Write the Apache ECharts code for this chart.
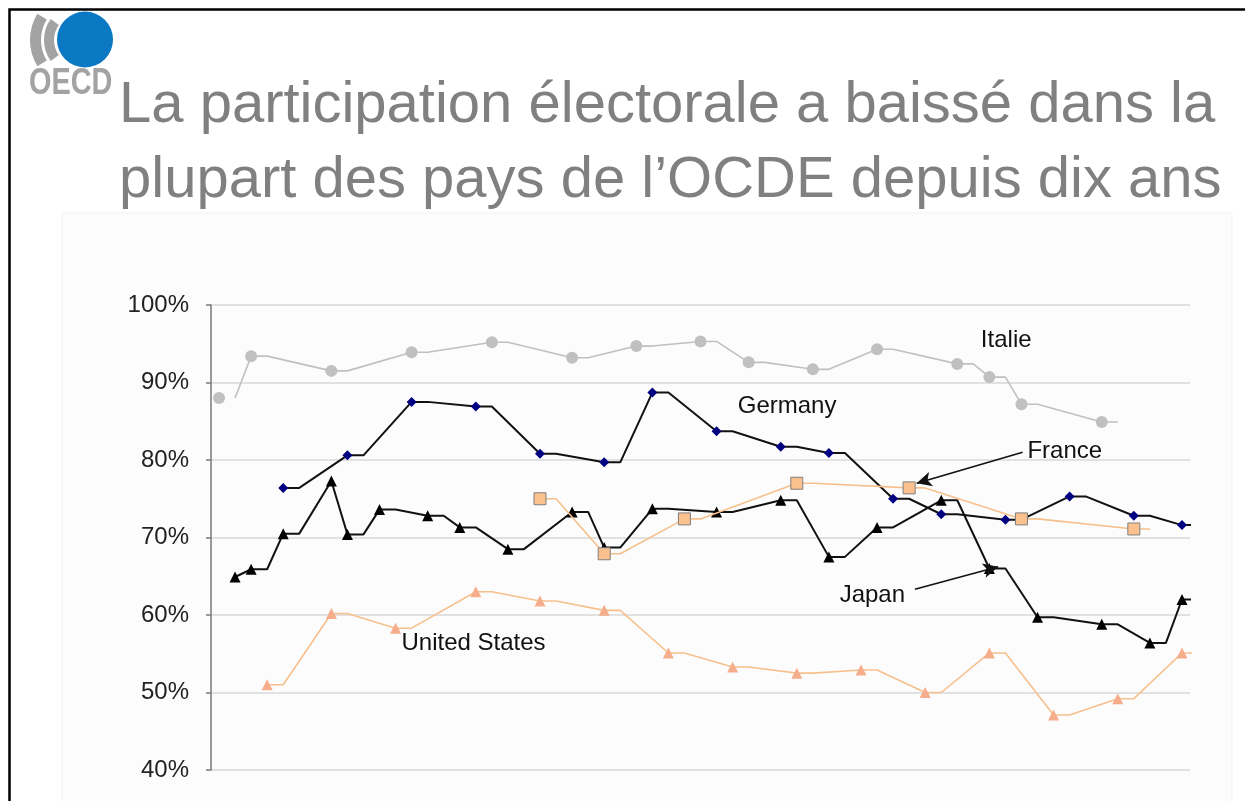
<!DOCTYPE html>
<html>
<head>
<meta charset="utf-8">
<script src="https://cdn.jsdelivr.net/npm/echarts@6/dist/echarts.min.js"></script>
<style>
  html, body { margin: 0; padding: 0; background: #ffffff; }
  #chart { width: 1245px; height: 801px; }
</style>
</head>
<body>
<div id="chart"></div>
<script>
// Turnout in national elections (% of voters), by election year
const ITALY_YEARS = [1945, 1947, 1952, 1957, 1962, 1967, 1971, 1975, 1978, 1982, 1986, 1991, 1993, 1995, 2000];
const ITALY = [88.0, 93.4, 91.5, 93.9, 95.2, 93.2, 94.7, 95.3, 92.6, 91.7, 94.3, 92.4, 90.7, 87.2, 84.9];

const GERMANY_YEARS = [1949, 1953, 1957, 1961, 1965, 1969, 1972, 1976, 1980, 1983, 1987, 1990, 1994, 1998, 2002, 2005];
const GERMANY = [76.4, 80.6, 87.5, 86.9, 80.8, 79.7, 88.7, 83.7, 81.7, 80.9, 75.0, 73.0, 72.3, 75.3, 72.8, 71.6];

const JAPAN_YEARS = [1946, 1947, 1949, 1952, 1953, 1955, 1958, 1960, 1963, 1967, 1969, 1972, 1976, 1980, 1983, 1986, 1990, 1993, 1996, 2000, 2003, 2005];
const JAPAN = [64.9, 65.9, 70.5, 77.3, 70.4, 73.6, 72.8, 71.3, 68.5, 73.3, 68.7, 73.7, 73.3, 74.8, 67.5, 71.3, 74.8, 66.0, 59.7, 58.8, 56.4, 62.0];

const FRANCE_YEARS = [1965, 1969, 1974, 1981, 1988, 1995, 2002];
const FRANCE = [75.0, 67.9, 72.4, 77.0, 76.4, 72.4, 71.1];

const US_YEARS = [1948, 1952, 1956, 1961, 1965, 1969, 1973, 1977, 1981, 1985, 1989, 1993, 1997, 2001, 2005];
const US = [51.0, 60.2, 58.3, 63.0, 61.8, 60.6, 55.1, 53.3, 52.5, 52.9, 50.0, 55.1, 47.1, 49.2, 55.1];

const Y_TICKS = [40, 50, 60, 70, 80, 90, 100];

const TITLE_LINES = [
  'La participation électorale a baissé dans la',
  'plupart des pays de l\u2019OCDE depuis dix ans'
];

// Country names written beside their lines: [name, year, turnout]
const SERIES_LABELS = [
  ['Italie', 1992.5, 95.35],
  ['Germany', 1977.35, 86.9],
  ['France', 1995.4, 81.0],
  ['Japan', 1983.7, 62.5],
  ['United States', 1956.4, 56.3]
];

// Pointer arrows: [from year, from turnout, to year, to turnout]
const ARROWS = [
  [1995.07, 80.99, 1988.47, 76.99],
  [1988.36, 63.32, 1993.55, 66.23]
];

// Each value is held for one year before the line moves on to the next election.
const HOLD = 1;

function buildLine(years, values, detachFirst) {
  const data = [];
  years.forEach((yr, i) => {
    data.push({ value: [yr, values[i]] });
    const next = years[i + 1];
    if (next === undefined || next - yr > HOLD) {
      if (i === 0 && detachFirst) {
        data.push({ value: [yr + HOLD / 2, '-'], symbol: 'none' });
      }
      data.push({ value: [yr + HOLD, values[i]], symbol: 'none' });
    }
  });
  return data;
}

const FONT = '"Liberation Sans", Arial, sans-serif';

const chart = echarts.init(document.getElementById('chart'), null, { renderer: 'canvas' });

const option = {
  animation: false,
  backgroundColor: '#ffffff',
  grid: { left: 211, right: 55, top: 305, bottom: 31 },
  xAxis: {
    type: 'value',
    min: 1944.5,
    max: 2005.5,
    show: false
  },
  yAxis: {
    type: 'value',
    min: Y_TICKS[0],
    max: Y_TICKS[Y_TICKS.length - 1],
    interval: 10,
    axisLine: { show: true, lineStyle: { color: '#7a7a7a', width: 1.5 } },
    axisTick: { show: true, length: 5, lineStyle: { color: '#7a7a7a', width: 1.5 } },
    axisLabel: {
      formatter: '{value}%',
      margin: 22,
      color: '#222222',
      fontFamily: FONT,
      fontSize: 24
    },
    splitLine: { show: true, lineStyle: { color: '#d9d9d9', width: 1.5 } }
  },
  graphic: [
    { type: 'rect', silent: true, z: -10,
      shape: { x: 62, y: 213, width: 1170, height: 600 },
      style: { fill: '#fcfcfc', stroke: '#f2f2f2', lineWidth: 1 } },
    { type: 'polyline', silent: true, z: 100,
      shape: { points: [[1260, 9.5], [9.5, 9.5], [9.5, 820]] },
      style: { stroke: '#000000', lineWidth: 2.5, fill: null } },
    // logo
    { type: 'sector', silent: true,
      shape: { cx: 80, cy: 40, r: 50, r0: 39, startAngle: Math.PI - 0.55, endAngle: Math.PI + 0.55 },
      style: { fill: '#a3a3a3' } },
    { type: 'sector', silent: true,
      shape: { cx: 80, cy: 40, r: 36, r0: 26, startAngle: Math.PI - 0.62, endAngle: Math.PI + 0.62 },
      style: { fill: '#a3a3a3' } },
    { type: 'circle', silent: true,
      shape: { cx: 85, cy: 39.5, r: 28 },
      style: { fill: '#0a78c2' } },
    { type: 'text', silent: true, x: 29, y: 84, scaleX: 0.78,
      style: { x: 0, y: 0, text: 'OECD', fill: '#a3a3a3',
        font: 'bold 37px ' + FONT, align: 'left', verticalAlign: 'middle' } },
    // title
    { type: 'text', silent: true,
      style: { x: 119, y: 106, text: TITLE_LINES[0], fill: '#808080',
        font: '58px ' + FONT, align: 'left', verticalAlign: 'middle' } },
    { type: 'text', silent: true,
      style: { x: 119, y: 181, text: TITLE_LINES[1], fill: '#808080',
        font: '58px ' + FONT, align: 'left', verticalAlign: 'middle' } }
  ],
  series: [
    {
      name: 'Italie', type: 'line', z: 2,
      data: buildLine(ITALY_YEARS, ITALY, true),
      symbol: 'circle', symbolSize: 12, connectNulls: false,
      lineStyle: { color: '#c0c0c0', width: 1.6 },
      itemStyle: { color: '#c0c0c0' }
    },
    {
      name: 'United States', type: 'line', z: 3,
      data: buildLine(US_YEARS, US),
      symbol: 'triangle', symbolSize: 11,
      lineStyle: { color: '#f6c08d', width: 1.6 },
      itemStyle: { color: '#f5ad8b' }
    },
    {
      name: 'Japan', type: 'line', z: 4,
      data: buildLine(JAPAN_YEARS, JAPAN),
      symbol: 'triangle', symbolSize: 11,
      lineStyle: { color: '#111111', width: 2 },
      itemStyle: { color: '#000000' }
    },
    {
      name: 'Germany', type: 'line', z: 5,
      data: buildLine(GERMANY_YEARS, GERMANY),
      symbol: 'diamond', symbolSize: 10,
      lineStyle: { color: '#111111', width: 2 },
      itemStyle: { color: '#000080' }
    },
    {
      name: 'France', type: 'line', z: 6,
      data: buildLine(FRANCE_YEARS, FRANCE),
      symbol: 'rect', symbolSize: 12,
      lineStyle: { color: '#f6c08d', width: 1.6 },
      itemStyle: { color: '#fac18f', borderColor: '#7f7f7f', borderWidth: 1 }
    },
    {
      name: 'labels', type: 'scatter', z: 8, silent: true,
      symbolSize: 1,
      itemStyle: { color: 'rgba(0,0,0,0)' },
      data: SERIES_LABELS.map(([name, yr, v]) => ({ name, value: [yr, v] })),
      label: {
        show: true,
        formatter: '{b}',
        position: [0, 0],
        align: 'left',
        verticalAlign: 'middle',
        color: '#111111',
        opacity: 1,
        fontFamily: FONT,
        fontSize: 24
      },
      labelLayout: { hideOverlap: false },
      markLine: {
        silent: true,
        animation: false,
        symbol: ['none', 'arrow'],
        symbolSize: [11, 15],
        label: { show: false },
        lineStyle: { color: '#111111', width: 1.6, type: 'solid' },
        emphasis: { disabled: true },
        data: ARROWS.map(([x1, y1, x2, y2]) => [
          { coord: [x1, y1] },
          { coord: [x2, y2] }
        ])
      }
    }
  ]
};

chart.setOption(option);
</script>
</body>
</html>
